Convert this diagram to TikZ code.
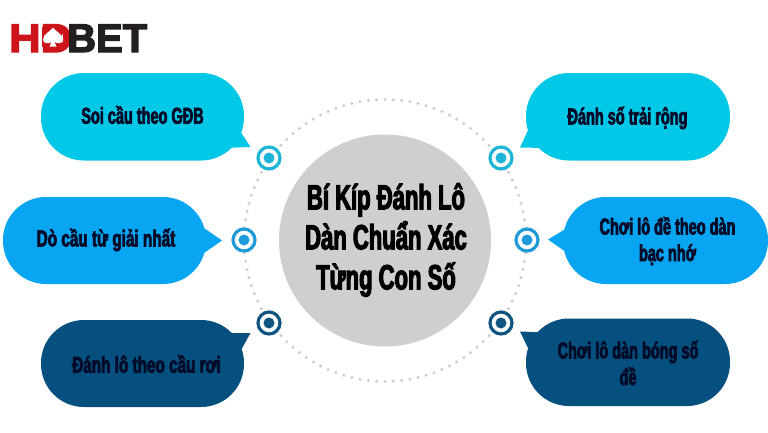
\documentclass[tikz,border=0pt]{standalone}
\usepackage{fontspec}
\setmainfont{Liberation Sans}
\newfontfamily\antonlike[FakeStretch=0.63,FakeBold=3]{Liberation Sans Bold}
\newfontfamily\antonwide[FakeStretch=0.665,FakeBold=3]{Liberation Sans Bold}
\newfontfamily\logofont[FakeStretch=1.0,FakeBold=3.5]{Liberation Sans Bold}
\newfontfamily\logofontw[FakeStretch=1.09,FakeBold=3.5]{Liberation Sans Bold}
\definecolor{cyanb}{HTML}{02C8E8}
\definecolor{blueb}{HTML}{08A6F2}
\definecolor{navyb}{HTML}{05507E}
\definecolor{cyanr}{HTML}{1FB5D8}
\definecolor{bluer}{HTML}{1E9BD8}
\definecolor{navyr}{HTML}{0F5582}
\definecolor{hub}{HTML}{CDCFD1}
\definecolor{dots}{HTML}{CDCFD1}
\definecolor{ink}{HTML}{020C28}
\definecolor{logored}{HTML}{CE141B}
\definecolor{logodark}{HTML}{231F20}
\tikzset{
  x=1pt,y=-1pt,
  btext/.style={font=\antonlike\fontsize{23}{26.5}\selectfont,text=ink,align=center,inner sep=0pt},
  btextw/.style={font=\antonwide\fontsize{23}{26.5}\selectfont,text=ink,align=center,inner sep=0pt},
  ringo/.style={circle,draw=#1,line width=3.2pt,fill=white,minimum size=22pt,inner sep=0pt},
  ringi/.style={circle,fill=#1,minimum size=11pt,inner sep=0pt},
}
\newcommand{\bubble}[5]{% x1 y1 x2 y2 colour
  \fill[#5,rounded corners=43pt] (#1,#2) rectangle (#3,#4);}
\newcommand{\marker}[4]{% name x y colour
  \node[ringo=#4] (#1) at (#2,#3) {};
  \node[ringi=#4] (#1c) at (#2,#3) {};}
\begin{document}
\begin{tikzpicture}
\useasboundingbox (0,0) rectangle (768,432);
\fill[white] (0,0) rectangle (768,432);
% dotted ring
\foreach \i in {0,...,105}
  \fill[dots] ({385+141*cos((\i+0.5)*3.3962)},{240.5+141*sin((\i+0.5)*3.3962)}) circle (1.7);
% hub
\node[circle,fill=hub,minimum size=212pt,inner sep=0pt] (hubc) at (385,240.5) {};
\node[font=\antonlike\fontsize{35}{40}\selectfont,text=black,align=center,inner sep=0pt] (title) at (386,240) {Bí Kíp Đánh Lô\\Dàn Chuẩn Xác\\Từng Con Số};
% bubbles
\bubble{41}{73}{244}{160.5}{cyanb}
\fill[cyanb] (240,131) -- (250.5,147) -- (225,148) -- cycle;
\bubble{3}{197}{206}{284}{blueb}
\fill[blueb] (204,228) -- (222,240.5) -- (204,253) -- cycle;
\bubble{41}{320}{244}{407}{navyb}
\fill[navyb] (225,333) -- (250.5,333) -- (240,352) -- cycle;
\bubble{526}{73}{730}{160.5}{cyanb}
\fill[cyanb] (529,128) -- (520,147.5) -- (545,148) -- cycle;
\bubble{563}{197}{768}{284}{blueb}
\fill[blueb] (567,228) -- (548,239.5) -- (566,252) -- cycle;
\bubble{526}{318.5}{730}{406}{navyb}
\fill[navyb] (545,332.5) -- (520,331.5) -- (530,352) -- cycle;
% bubble texts
\node[btext] (t1) at (142.5,115) {Soi cầu theo GĐB};
\node[btextw] (t2) at (106,240) {Dò cầu từ giải nhất};
\node[btextw] (t3) at (146.5,364) {Đánh lô theo cầu rơi};
\node[btext] (t4) at (627.5,118) {Đánh số trải rộng};
\node[btext] (t5) at (667.5,241) {Chơi lô đề theo dàn\\bạc nhớ};
\node[btext] (t6) at (628,363) {Chơi lô dàn bóng số\\đề};
% markers
\marker{m1}{269}{158}{cyanr}
\marker{m2}{244}{240}{bluer}
\marker{m3}{269}{323}{navyr}
\marker{m4}{501}{158}{cyanr}
\marker{m5}{527}{240}{bluer}
\marker{m6}{501}{323}{navyr}
% logo
\node[font=\logofontw\fontsize{40}{40}\selectfont,text=logored,anchor=base west,inner sep=0pt] (logoh) at (9,52) {HD};
\fill[logored] (42,27) rectangle (62,47);
\node[font=\logofont\fontsize{40}{40}\selectfont,text=logodark,anchor=base west,inner sep=0pt] (logob) at (67,52) {BET};
\fill[white] (53,27.5) .. controls (55,31) and (63,34) .. (63,39.5)
  .. controls (63,43.5) and (57.5,44.5) .. (54.5,42) -- (56.5,46.5) -- (49.5,46.5) -- (51.5,42)
  .. controls (48.5,44.5) and (43,43.5) .. (43,39.5)
  .. controls (43,34) and (51,31) .. (53,27.5) -- cycle;
\end{tikzpicture}
\end{document}
